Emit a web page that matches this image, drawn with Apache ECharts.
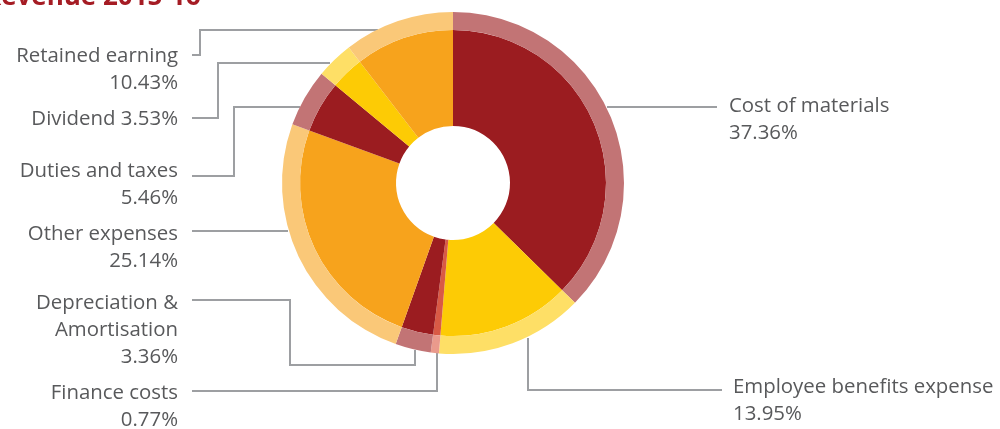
<!DOCTYPE html>
<html><head><meta charset="utf-8">
<script src="https://cdn.jsdelivr.net/npm/echarts@6/dist/echarts.min.js"></script>
<style>html,body{margin:0;padding:0;background:#fff;overflow:hidden}#c{width:1000px;height:429px}</style>
</head><body><div id="c"></div>
<script>
// ---- data ----
const categories = ['Cost of materials', 'Employee benefits expense', 'Finance costs', 'Depreciation &\nAmortisation', 'Other expenses', 'Duties and taxes', 'Dividend', 'Retained earning'];
const shares = [37.36, 13.95, 0.77, 3.36, 25.14, 5.46, 3.53, 10.43];
const labelSeparators = ['\n', '\n', '\n', '\n', '\n', '\n', ' ', '\n'];
const titleText = 'Revenue 2015-16';

// ---- styles ----
const innerColors = ['#9B1C20', '#FDCB05', '#D95A45', '#9B1C20', '#F7A31C', '#9B1C20', '#FDCB05', '#F7A31C'];
const outerColors = ['#C27475', '#FEDF66', '#EA9A8C', '#C27475', '#FAC878', '#C27475', '#FEDF66', '#FAC878'];
const LH = 27;
// annotation layout: label anchor (text x, first-line center y, align) and leader line route
const annot = [
  {x: 729, cy: 106, align: 'left',  line: [[607,107],[717,107]]},
  {x: 733, cy: 387, align: 'left',  line: [[528,338],[528,390],[722,390]]},
  {x: 178, cy: 393, align: 'right', line: [[437,353],[437,391],[192,391]]},
  {x: 178, cy: 303, align: 'right', line: [[415,350],[415,365],[290,365],[290,300],[192,300]]},
  {x: 178, cy: 234, align: 'right', line: [[288,231],[192,231]]},
  {x: 178, cy: 171, align: 'right', line: [[300,107],[234,107],[234,176],[192,176]]},
  {x: 178, cy: 119, align: 'right', line: [[330,63],[218,63],[218,118],[192,118]]},
  {x: 178, cy: 56,  align: 'right', line: [[378,30],[200,30],[200,55],[192,55]]}
];

const chart = echarts.init(document.getElementById('c'), null, {renderer: 'canvas'});
const mk = (colors) => categories.map((n, i) => ({name: n, value: shares[i], itemStyle: {color: colors[i]}}));
const center = [453, 183];

chart.setOption({
  animation: false,
  graphic: [{
    type: 'text', x: -16, y: 11,
    style: {text: titleText, font: 'bold 26px "Open Sans"', fill: '#A51C24', verticalAlign: 'bottom', align: 'left'}
  }],
  series: [
    {
      type: 'pie', center: center, radius: [57, 153], startAngle: 90, clockwise: true,
      silent: true, label: {show: false}, labelLine: {show: false},
      itemStyle: {borderWidth: 0}, data: mk(innerColors)
    },
    {
      type: 'pie', center: center, radius: [153, 171], startAngle: 90, clockwise: true,
      silent: true, avoidLabelOverlap: false,
      itemStyle: {borderWidth: 0},
      label: {
        show: true, position: 'outer', alignTo: 'none',
        formatter: (p) => p.name + labelSeparators[p.dataIndex] + shares[p.dataIndex].toFixed(2) + '%',
        color: '#58595B', fontSize: 20.4, lineHeight: LH, fontFamily: '"Open Sans", sans-serif'
      },
      labelLine: {show: true, smooth: false, lineStyle: {color: '#9D9FA2', width: 2}},
      labelLayout: (p) => {
        const a = annot[p.dataIndex];
        return {x: a.x, y: a.cy - LH / 2, align: a.align, verticalAlign: 'top', labelLinePoints: a.line};
      },
      data: mk(outerColors)
    }
  ]
});
</script></body></html>
